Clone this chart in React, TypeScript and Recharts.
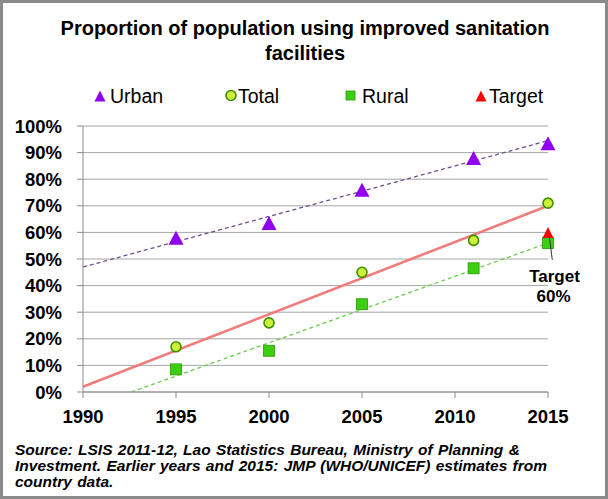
import React from 'react';
import { ComposedChart, Scatter, Line, XAxis, YAxis, CartesianGrid } from 'recharts';

// ---- Data ----
const years = [1995, 2000, 2005, 2011, 2015];
const urbanValues = [58, 63.5, 76, 88, 93.5];
const totalValues = [17, 26, 45, 57, 71];
const ruralValues = [8.5, 15.5, 33, 46.5, 56];
const targetYears = [2015];
const targetValues = [60];

const urbanTrendYears = [1990, 2015];
const urbanTrendValues = [47, 94.5];
const totalTrendYears = [1990, 2015];
const totalTrendValues = [2, 70];
const ruralTrendYears = [1992.6, 2015];
const ruralTrendValues = [0, 56];

const xTicks = [1990, 1995, 2000, 2005, 2010, 2015];
const yTicks = [0, 10, 20, 30, 40, 50, 60, 70, 80, 90, 100];

const titleLines = ['Proportion of population using improved sanitation', 'facilities'];
const legendLabels = ['Urban', 'Total', 'Rural', 'Target'];
const targetNote = ['Target', '60%'];
const sourceLines = [
  'Source: LSIS 2011-12, Lao Statistics Bureau, Ministry of Planning &',
  'Investment. Earlier years and 2015: JMP (WHO/UNICEF) estimates from',
  'country data.',
];

const toPoints = (xs: number[], ys: number[]) => xs.map((x, i) => ({ x, y: ys[i] }));

const urbanData = toPoints(years, urbanValues);
const totalData = toPoints(years, totalValues);
const ruralData = toPoints(years, ruralValues);
const targetData = toPoints(targetYears, targetValues);
const urbanTrend = toPoints(urbanTrendYears, urbanTrendValues);
const totalTrend = toPoints(totalTrendYears, totalTrendValues);
const ruralTrend = toPoints(ruralTrendYears, ruralTrendValues);

// ---- Styles ----
const FONT = '"Liberation Sans", Arial, Helvetica, sans-serif';
const URBAN = '#9000ee';
const URBAN_TREND = '#6f4f96';
const TOTAL_FILL = '#cdf03a';
const TOTAL_STROKE = '#3f8f00';
const TOTAL_TREND = '#f17c7c';
const RURAL_FILL = '#3ccf0f';
const RURAL_STROKE = '#2a9a00';
const RURAL_TREND = '#6ccc4c';
const TARGET = '#ff0000';
const GRID = '#a6a6a6';
const AXIS = '#8c8c8c';

const tri = (cx: number, cy: number, w: number, h: number) =>
  `${cx},${cy - h / 2} ${cx - w / 2},${cy + h / 2} ${cx + w / 2},${cy + h / 2}`;

const UrbanShape = (props: any) => {
  const { cx, cy } = props;
  if (cx == null || cy == null) return <g />;
  return <polygon points={tri(cx, cy, 15, 14)} fill={URBAN} />;
};

const TotalShape = (props: any) => {
  const { cx, cy } = props;
  if (cx == null || cy == null) return <g />;
  return <circle cx={cx} cy={cy} r={5} fill={TOTAL_FILL} stroke={TOTAL_STROKE} strokeWidth={1.6} />;
};

const RuralShape = (props: any) => {
  const { cx, cy } = props;
  if (cx == null || cy == null) return <g />;
  return <rect x={cx - 5.5} y={cy - 5.5} width={11} height={11} fill={RURAL_FILL} stroke={RURAL_STROKE} strokeWidth={0.8} />;
};

const TargetShape = (props: any) => {
  const { cx, cy } = props;
  if (cx == null || cy == null) return <g />;
  return (
    <g>
      <polygon points={tri(cx, cy, 11, 11)} fill={TARGET} />
      <line x1={cx + 1.3} y1={cy + 4} x2={cx + 4.3} y2={cy + 27.5} stroke="#333" strokeWidth={1} />
      <text x={cx + 6.5} y={cy + 49.3} textAnchor="middle" fontFamily={FONT} fontWeight="bold" fontSize={17} fill="#000">
        {targetNote[0]}
      </text>
      <text x={cx + 5.5} y={cy + 69.3} textAnchor="middle" fontFamily={FONT} fontWeight="bold" fontSize={17} fill="#000">
        {targetNote[1]}
      </text>
    </g>
  );
};

const tickStyle = { fontFamily: FONT, fontWeight: 'bold' as const, fontSize: 18.5, fill: '#000' };

export default function App() {
  return (
    <div style={{ position: 'absolute', left: 0, top: 0, width: 608, height: 499, background: '#fff' }}>
      <ComposedChart
        width={608}
        height={499}
        margin={{ top: 126, right: 60, bottom: 67, left: 8 }}
      >
        <CartesianGrid vertical={false} stroke={GRID} strokeWidth={1} />
        <XAxis
          dataKey="x"
          type="number"
          domain={[1990, 2015]}
          ticks={xTicks}
          height={40}
          tickSize={6}
          tickMargin={12}
          tick={tickStyle}
          stroke={AXIS}
          interval={0}
        />
        <YAxis
          dataKey="y"
          type="number"
          domain={[0, 100]}
          ticks={yTicks}
          width={75}
          tickSize={6}
          tickMargin={15}
          tick={tickStyle}
          tickFormatter={(v: number) => `${v}%`}
          stroke={AXIS}
          interval={0}
        />
        <Line data={urbanTrend} dataKey="y" type="linear" stroke={URBAN_TREND} strokeWidth={1.3} strokeDasharray="4 3" dot={false} activeDot={false} isAnimationActive={false} />
        <Line data={ruralTrend} dataKey="y" type="linear" stroke={RURAL_TREND} strokeWidth={1.3} strokeDasharray="4 3" dot={false} activeDot={false} isAnimationActive={false} />
        <Line data={totalTrend} dataKey="y" type="linear" stroke={TOTAL_TREND} strokeWidth={2.6} dot={false} activeDot={false} isAnimationActive={false} />
        <Scatter data={urbanData} dataKey="y" shape={UrbanShape} isAnimationActive={false} />
        <Scatter data={totalData} dataKey="y" shape={TotalShape} isAnimationActive={false} />
        <Scatter data={ruralData} dataKey="y" shape={RuralShape} isAnimationActive={false} />
        <Scatter data={targetData} dataKey="y" shape={TargetShape} isAnimationActive={false} />
      </ComposedChart>
      <svg
        width={608}
        height={499}
        style={{ position: 'absolute', left: 0, top: 0, pointerEvents: 'none' }}
      >
        <rect x={1.5} y={1.5} width={605} height={496} fill="none" stroke="#8a8a8a" strokeWidth={3} />
        {titleLines.map((t, i) => (
          <text key={t} x={305} y={35 + i * 24.5} textAnchor="middle" fontFamily={FONT} fontWeight="bold" fontSize={20} fill="#000">
            {t}
          </text>
        ))}
        {/* Legend */}
        <polygon points={tri(100, 96, 11, 11)} fill={URBAN} />
        <text x={110} y={103} fontFamily={FONT} fontSize={19.5} fill="#000">{legendLabels[0]}</text>
        <circle cx={231} cy={95.5} r={5} fill={TOTAL_FILL} stroke={TOTAL_STROKE} strokeWidth={1.6} />
        <text x={238} y={103} fontFamily={FONT} fontSize={19.5} fill="#000">{legendLabels[1]}</text>
        <rect x={346} y={91} width={9} height={9} fill={RURAL_FILL} stroke={RURAL_STROKE} strokeWidth={0.8} />
        <text x={362} y={103} fontFamily={FONT} fontSize={19.5} fill="#000">{legendLabels[2]}</text>
        <polygon points={tri(481, 96, 11, 11)} fill={TARGET} />
        <text x={489} y={103} fontFamily={FONT} fontSize={19.5} fill="#000">{legendLabels[3]}</text>
        {/* Source */}
        {sourceLines.map((t, i) => (
          <text key={t} x={15} y={455 + i * 16} fontFamily={FONT} fontWeight="bold" fontStyle="italic" fontSize={15.5} wordSpacing={1} fill="#000">
            {t}
          </text>
        ))}
      </svg>
    </div>
  );
}
